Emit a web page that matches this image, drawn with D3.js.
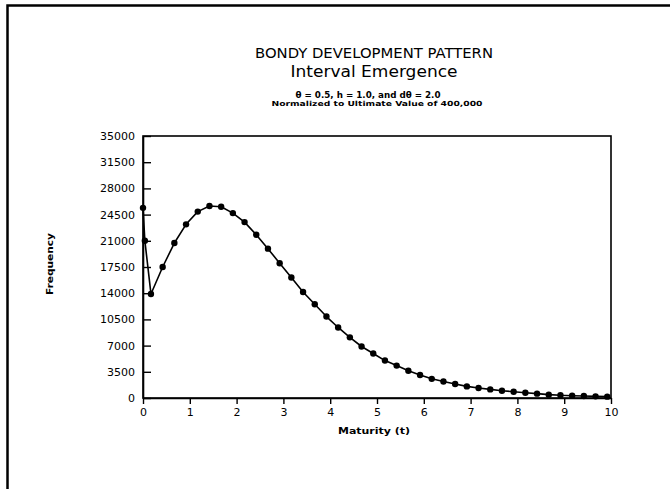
<!DOCTYPE html>
<html>
<head>
<meta charset="utf-8">
<script src="https://cdn.jsdelivr.net/npm/d3@7"></script>
<style>
  html, body { margin: 0; padding: 0; background: #fff; }
  svg { display: block; }
</style>
</head>
<body>
<div id="container"></div>
<script>
// maturity (t) where each point was plotted
const maturity = [0, 0.04, 0.17, 0.42, 0.67, 0.92, 1.17, 1.42, 1.67, 1.92,
  2.17, 2.42, 2.67, 2.92, 3.17, 3.42, 3.67, 3.92, 4.17, 4.42,
  4.67, 4.92, 5.17, 5.42, 5.67, 5.92, 6.17, 6.42, 6.67, 6.92,
  7.17, 7.42, 7.67, 7.92, 8.17, 8.42, 8.67, 8.92, 9.17, 9.42, 9.67, 9.92];
// frequency
const frequency = [25400, 21000, 13900, 17500, 20700, 23200, 24900, 25650, 25550, 24700,
  23500, 21800, 19950, 18000, 16100, 14170, 12520, 10880, 9420, 8100,
  6880, 5950, 5000, 4330, 3650, 3080, 2560, 2200, 1880, 1550,
  1330, 1150, 970, 840, 710, 580, 450, 360, 310, 260, 220, 180];

const yTicks = [0, 3500, 7000, 10500, 14000, 17500, 21000, 24500, 28000, 31500, 35000];
const xTicks = [0, 1, 2, 3, 4, 5, 6, 7, 8, 9, 10];

const titleLines = ["BONDY DEVELOPMENT PATTERN", "Interval Emergence"];
const noteLines = ["\u03b8 = 0.5, h = 1.0, and d\u03b8 = 2.0", "Normalized to Ultimate Value of 400,000"];

const width = 670, height = 489;
const margin = {top: 136, right: 59, bottom: 91, left: 143};
const font = "'DejaVu Sans', 'Liberation Sans', sans-serif";

const data = maturity.map((t, i) => ({t: t, f: frequency[i]}));

const svg = d3.select("#container").append("svg")
    .attr("width", width)
    .attr("height", height)
    .attr("font-family", font);

// page frame (only top and left edges show)
svg.append("path")
    .attr("d", "M7.5,489 L7.5,5.5 L670,5.5")
    .attr("fill", "none")
    .attr("stroke", "#000")
    .attr("stroke-width", 2.5);

// titles
svg.append("text")
    .attr("x", 374).attr("y", 58)
    .attr("text-anchor", "middle")
    .attr("font-size", 14)
    .attr("textLength", 238).attr("lengthAdjust", "spacingAndGlyphs")
    .text(titleLines[0]);
svg.append("text")
    .attr("x", 374).attr("y", 77)
    .attr("text-anchor", "middle")
    .attr("font-size", 15)
    .attr("textLength", 167).attr("lengthAdjust", "spacingAndGlyphs")
    .text(titleLines[1]);
svg.append("text")
    .attr("x", 368).attr("y", 98)
    .attr("text-anchor", "middle")
    .attr("font-size", 8)
    .attr("font-weight", "bold")
    .attr("textLength", 145).attr("lengthAdjust", "spacingAndGlyphs")
    .text(noteLines[0]);
svg.append("text")
    .attr("x", 377).attr("y", 106)
    .attr("text-anchor", "middle")
    .attr("font-size", 7)
    .attr("font-weight", "bold")
    .attr("textLength", 211).attr("lengthAdjust", "spacingAndGlyphs")
    .text(noteLines[1]);

const x = d3.scaleLinear()
    .domain([0, 10])
    .range([margin.left, width - margin.right]);
const y = d3.scaleLinear()
    .domain([0, 35000])
    .range([height - margin.bottom, margin.top]);

// plot box
svg.append("rect")
    .attr("x", x(0)).attr("y", y(35000))
    .attr("width", x(10) - x(0)).attr("height", y(0) - y(35000))
    .attr("fill", "none")
    .attr("stroke", "#000")
    .attr("stroke-width", 1.6);

const yAxis = svg.append("g")
    .attr("transform", `translate(${x(0)},0)`)
    .call(d3.axisLeft(y).tickValues(yTicks).tickSizeInner(-8).tickSizeOuter(0).tickPadding(8).tickFormat(d3.format("d")));
const xAxis = svg.append("g")
    .attr("transform", `translate(0,${y(0)})`)
    .call(d3.axisBottom(x).tickValues(xTicks).tickSizeInner(6).tickSizeOuter(0).tickPadding(4).tickFormat(d3.format("d")));

[xAxis, yAxis].forEach(g => {
  g.select(".domain").attr("stroke-width", 1.6);
  g.selectAll(".tick line").attr("stroke-width", 1.4);
  g.selectAll(".tick text")
      .attr("font-family", font)
      .attr("font-size", 11)
      .attr("fill", "#000");
});

// axis titles
svg.append("text")
    .attr("x", 374).attr("y", 434)
    .attr("text-anchor", "middle")
    .attr("font-size", 9)
    .attr("font-weight", "bold")
    .attr("textLength", 72).attr("lengthAdjust", "spacingAndGlyphs")
    .text("Maturity (t)");
svg.append("text")
    .attr("transform", "translate(53,264) rotate(-90)")
    .attr("text-anchor", "middle")
    .attr("font-size", 9)
    .attr("font-weight", "bold")
    .attr("textLength", 62).attr("lengthAdjust", "spacingAndGlyphs")
    .text("Frequency");

// curve
svg.append("path")
    .datum(data)
    .attr("fill", "none")
    .attr("stroke", "#000")
    .attr("stroke-width", 1.6)
    .attr("stroke-linejoin", "round")
    .attr("d", d3.line().x(d => x(d.t)).y(d => y(d.f)));

svg.append("g")
  .selectAll("circle")
  .data(data)
  .join("circle")
    .attr("cx", d => x(d.t))
    .attr("cy", d => y(d.f))
    .attr("r", 3.2)
    .attr("fill", "#000");
</script>
</body>
</html>
